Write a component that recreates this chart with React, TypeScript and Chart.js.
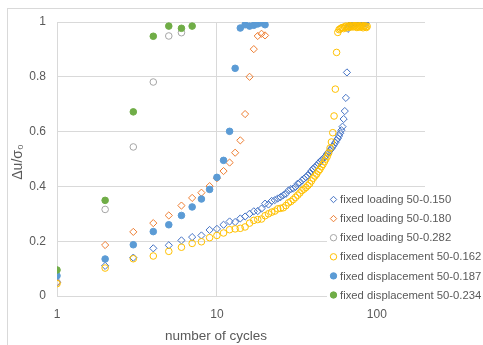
import React, { useEffect, useRef } from 'react';
import { Chart, registerables } from 'chart.js';

Chart.register(...registerables);

const seriesNames = [
  'fixed loading 50-0.150',
  'fixed loading 50-0.180',
  'fixed loading 50-0.282',
  'fixed displacement 50-0.162',
  'fixed displacement 50-0.187',
  'fixed displacement 50-0.234',
];
const seriesColors = ['#4472C4', '#ED7D31', '#A5A5A5', '#FFC000', '#5B9BD5', '#70AD47'];
const seriesShapes = ['rectRot', 'rectRot', 'circle', 'circle', 'circle', 'circle'];
const seriesFilled = [false, false, false, false, true, true];

const xTicks = [1, 10, 100];
const yTicks = [0, 0.2, 0.4, 0.6, 0.8, 1];
const xTitle = 'number of cycles';
const yTitle = 'Δu/σ₀';

// fixed loading 50-0.150
const cyclesLoading150 = [
  1, 2, 3, 4, 5, 6, 7, 8, 9, 10, 11, 12, 13, 14, 15, 16, 17, 18, 19, 20,
  21, 22, 23, 24, 25, 26, 27, 28, 29, 30, 31, 32, 33, 34, 35, 36, 37, 38, 39, 40,
  41, 42, 43, 44, 45, 46, 47, 48, 49, 50, 51, 52, 53, 54, 55, 56, 57, 58, 59, 60,
  61, 62, 63, 64, 65, 66, 67, 68, 69, 70, 71, 72, 73, 74, 75, 76, 77, 78, 79, 80,
  81, 82, 83, 84, 85,
];
const loading150 = [
  0.05, 0.11, 0.14, 0.174, 0.185, 0.203, 0.215, 0.221, 0.241, 0.245,
  0.26, 0.272, 0.27, 0.283, 0.29, 0.3, 0.309, 0.31, 0.319, 0.337,
  0.334, 0.347, 0.35, 0.356, 0.361, 0.368, 0.373, 0.385, 0.39, 0.392,
  0.398, 0.41, 0.413, 0.422, 0.428, 0.434, 0.44, 0.448, 0.457, 0.465,
  0.47, 0.476, 0.483, 0.49, 0.496, 0.5, 0.506, 0.512, 0.52, 0.526,
  0.532, 0.538, 0.546, 0.552, 0.56, 0.569, 0.575, 0.584, 0.594, 0.605,
  0.618, 0.646, 0.675, 0.723, 0.816, 0.975, 0.985, 0.99, 0.993, 0.995,
  0.99, 0.997, 0.995, 1.0, 0.998, 0.996, 1.0, 0.999, 0.997, 1.0,
  0.998, 1.0, 0.999, 0.997, 0.995,
];

// fixed loading 50-0.180
const cyclesLoading180 = [1, 2, 3, 4, 5, 6, 7, 8, 9, 10, 11, 12, 13, 14, 15, 16, 17, 18, 19, 20];
const loading180 = [
  0.05, 0.186, 0.234, 0.266, 0.294, 0.33, 0.358, 0.377, 0.401, 0.43,
  0.456, 0.487, 0.523, 0.568, 0.664, 0.8, 0.901, 0.949, 0.957, 0.951,
];

// fixed loading 50-0.282
const cyclesLoading282 = [1, 2, 3, 4, 5, 6];
const loading282 = [0.05, 0.316, 0.544, 0.781, 0.949, 0.961];

// fixed displacement 50-0.162
const cyclesDisp162 = [
  1, 2, 3, 4, 5, 6, 7, 8, 9, 10, 11, 12, 13, 14, 15, 16, 17, 18, 19, 20,
  21, 22, 23, 24, 25, 26, 27, 28, 29, 30, 31, 32, 33, 34, 35, 36, 37, 38, 39, 40,
  41, 42, 43, 44, 45, 46, 47, 48, 49, 50, 51, 52, 53, 54, 55, 56, 57, 58, 59, 60,
  61, 62, 63, 64, 65, 66, 67, 68, 69, 70, 71, 72, 73, 74, 75, 76, 77, 78, 79, 80,
  81, 82, 83, 84, 85, 86, 87,
];
const disp162 = [
  0.045, 0.102, 0.136, 0.146, 0.163, 0.178, 0.192, 0.198, 0.213, 0.221,
  0.23, 0.242, 0.245, 0.247, 0.252, 0.266, 0.276, 0.279, 0.281, 0.293,
  0.3, 0.306, 0.31, 0.318, 0.32, 0.322, 0.33, 0.34, 0.345, 0.352,
  0.36, 0.368, 0.376, 0.385, 0.39, 0.396, 0.403, 0.41, 0.42, 0.43,
  0.438, 0.445, 0.455, 0.462, 0.472, 0.48, 0.49, 0.5, 0.51, 0.522,
  0.54, 0.562, 0.596, 0.657, 0.755, 0.889, 0.962, 0.972, 0.975, 0.978,
  0.98, 0.976, 0.982, 0.985, 0.979, 0.983, 0.986, 0.981, 0.984, 0.988,
  0.982, 0.985, 0.987, 0.983, 0.98, 0.986, 0.984, 0.981, 0.985, 0.988,
  0.983, 0.979, 0.984, 0.986, 0.982, 0.98, 0.984,
];

// fixed displacement 50-0.187
const cyclesDisp187 = [1, 2, 3, 4, 5, 6, 7, 8, 9, 10, 11, 12, 13, 14, 15, 16, 17, 18, 19, 20];
const disp187 = [
  0.074, 0.135, 0.187, 0.235, 0.26, 0.294, 0.325, 0.354, 0.389, 0.433,
  0.495, 0.601, 0.831, 0.978, 0.99, 0.985, 0.988, 0.993, 0.997, 0.99,
];

// fixed displacement 50-0.234
const cyclesDisp234 = [1, 2, 3, 4, 5, 6, 7];
const disp234 = [0.095, 0.349, 0.672, 0.948, 0.985, 0.977, 0.985];

const allCycles = [cyclesLoading150, cyclesLoading180, cyclesLoading282, cyclesDisp162, cyclesDisp187, cyclesDisp234];
const allValues = [loading150, loading180, loading282, disp162, disp187, disp234];

const TEXT = '#595959';
const GRID = '#D9D9D9';
const FONT = '"Liberation Sans", Arial, sans-serif';

const overlayPlugin = {
  id: 'overlayLegendTitles',
  afterDraw(chart: any) {
    const ctx = chart.ctx as CanvasRenderingContext2D;
    ctx.save();
    // axis titles
    ctx.fillStyle = TEXT;
    ctx.textAlign = 'center';
    ctx.textBaseline = 'middle';
    ctx.font = `13.5px ${FONT}`;
    ctx.fillText(xTitle, 216, 336);
    ctx.save();
    ctx.translate(18, 162);
    ctx.rotate(-Math.PI / 2);
    ctx.font = `14px ${FONT}`;
    ctx.fillText(yTitle, 0, 0);
    ctx.restore();

    // legend
    ctx.fillStyle = '#ffffff';
    ctx.fillRect(327, 187, 160, 120);
    const x0 = 333.5;
    const y0 = 199.5;
    const step = 19.1;
    ctx.font = `11.3px ${FONT}`;
    ctx.textBaseline = 'middle';
    ctx.textAlign = 'left';
    for (let i = 0; i < seriesNames.length; i++) {
      const y = y0 + i * step;
      const c = seriesColors[i];
      ctx.beginPath();
      const r = 3.2;
      if (seriesShapes[i] === 'rectRot') {
        ctx.moveTo(x0, y - r);
        ctx.lineTo(x0 + r, y);
        ctx.lineTo(x0, y + r);
        ctx.lineTo(x0 - r, y);
        ctx.closePath();
      } else {
        ctx.arc(x0, y, r, 0, Math.PI * 2);
      }
      ctx.fillStyle = seriesFilled[i] ? c : '#ffffff';
      ctx.fill();
      ctx.strokeStyle = c;
      ctx.lineWidth = 1;
      ctx.stroke();
      ctx.fillStyle = TEXT;
      ctx.fillText(seriesNames[i], 340, y + 0.5);
    }
    ctx.restore();
  },
};

export default function App() {
  const ref = useRef<HTMLCanvasElement>(null);

  useEffect(() => {
    document.body.style.margin = '0';
    const canvas = ref.current;
    if (!canvas) return;

    const datasets = seriesNames.map((name, i) => ({
      label: name,
      data: allCycles[i].map((x, j) => ({ x, y: allValues[i][j] })),
      pointStyle: seriesShapes[i],
      pointRadius: seriesShapes[i] === 'rectRot' ? 3.6 : 3.3,
      pointBorderWidth: 1,
      borderColor: seriesColors[i],
      backgroundColor: seriesFilled[i] ? seriesColors[i] : 'rgba(255,255,255,0)',
      pointBackgroundColor: seriesFilled[i] ? seriesColors[i] : 'rgba(255,255,255,0)',
      pointBorderColor: seriesColors[i],
      showLine: false,
      order: seriesNames.length - i,
    }));

    const chart = new Chart(canvas, {
      type: 'scatter',
      data: { datasets } as any,
      plugins: [overlayPlugin],
      options: {
        animation: false,
        responsive: false,
        devicePixelRatio: 1,
        layout: { padding: { left: 0, right: 58, top: 22, bottom: 0 } },
        plugins: {
          legend: { display: false },
          tooltip: { enabled: false },
        },
        scales: {
          x: {
            type: 'logarithmic',
            min: 1,
            max: 200,
            afterFit: (s: any) => {
              s.height = 49;
            },
            afterBuildTicks: (s: any) => {
              s.ticks = xTicks.map((v) => ({ value: v }));
            },
            ticks: {
              color: TEXT,
              font: { family: FONT, size: 12 },
              padding: 11,
              maxRotation: 0,
              autoSkip: false,
              callback: (v: any) => String(v),
            },
            grid: { color: GRID, drawTicks: false, lineWidth: 1 },
            border: { color: GRID },
          },
          y: {
            min: 0,
            max: 1,
            afterFit: (s: any) => {
              s.width = 57;
            },
            afterBuildTicks: (s: any) => {
              s.ticks = yTicks.map((v) => ({ value: v }));
            },
            ticks: {
              color: TEXT,
              font: { family: FONT, size: 12 },
              padding: 11,
              callback: (v: any) => String(Math.round(Number(v) * 10) / 10),
            },
            grid: { color: GRID, drawTicks: false, lineWidth: 1 },
            border: { color: GRID },
          },
        },
      } as any,
    });

    return () => {
      chart.destroy();
    };
  }, []);

  return (
    <div
      style={{
        position: 'relative',
        width: 483,
        height: 345,
        overflow: 'hidden',
        background: '#ffffff',
      }}
    >
      <div
        style={{
          position: 'absolute',
          left: 7,
          top: 8,
          width: 600,
          height: 400,
          border: '1px solid #D9D9D9',
          boxSizing: 'border-box',
        }}
      />
      <canvas
        ref={ref}
        width={483}
        height={345}
        style={{ position: 'absolute', left: 0, top: 0, width: 483, height: 345 }}
      />
    </div>
  );
}
